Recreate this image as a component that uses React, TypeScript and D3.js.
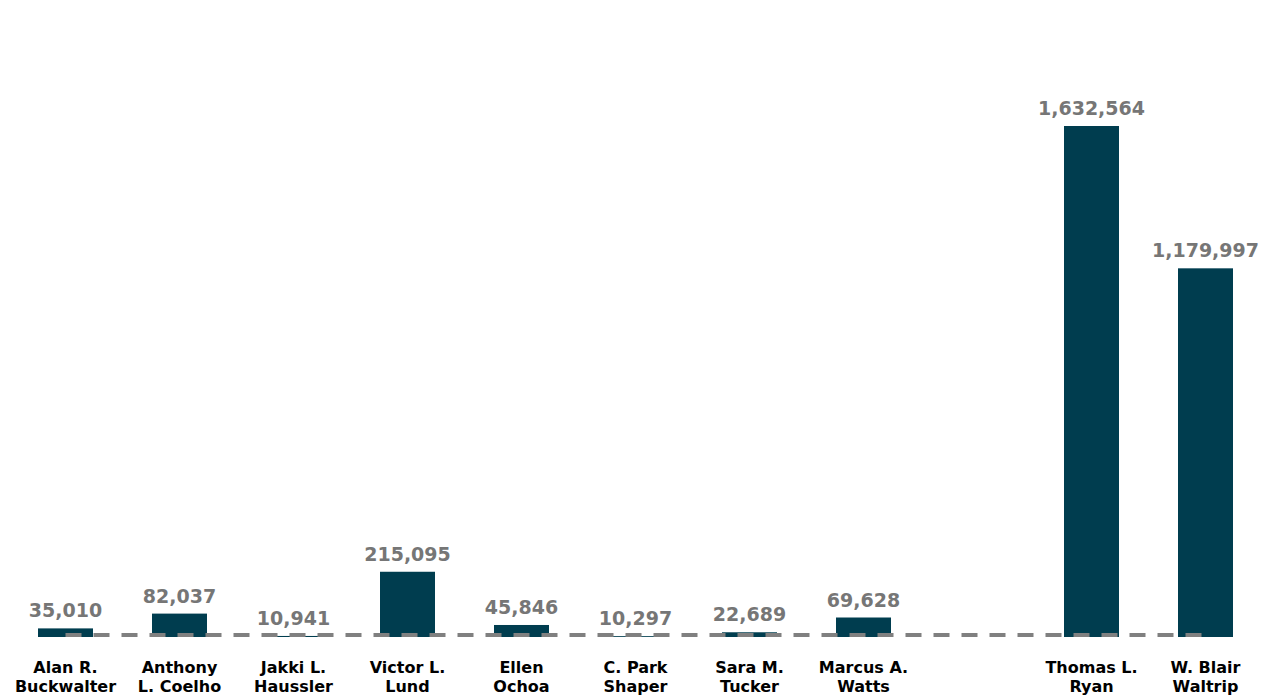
import React from "react";
import * as d3 from "d3";

const categories: string[][] = [
  ["Alan R.", "Buckwalter"],
  ["Anthony", "L. Coelho"],
  ["Jakki L.", "Haussler"],
  ["Victor L.", "Lund"],
  ["Ellen", "Ochoa"],
  ["C. Park", "Shaper"],
  ["Sara M.", "Tucker"],
  ["Marcus A.", "Watts"],
  ["", ""],
  ["Thomas L.", "Ryan"],
  ["W. Blair", "Waltrip"],
];
const values: (number | null)[] = [35010, 82037, 10941, 215095, 45846, 10297, 22689, 69628, null, 1632564, 1179997];
const lineValues: number[] = [14000, 14000, 14000, 14000, 14000, 14000, 14000, 14000, 14000, 14000, 14000];

export default function App() {
  const W = 1270, H = 700;
  const x = d3.scaleBand<number>().domain(categories.map((_, i) => i)).range([8.5, 1262.5]).paddingInner(0).paddingOuter(0);
  const y = d3.scaleLinear().domain([0, 1632564]).range([639.4, 126]);
  const plotBottom = 637;
  const bw = 55;
  const fmt = d3.format(",");
  const cx = (i: number) => (x(i) as number) + x.bandwidth() / 2;
  const line = d3.line<number>().x((_, i) => cx(i)).y((d) => y(d));
  return (
    <svg width={W} height={H} style={{ position: "absolute", left: 0, top: 0 }}>
      <rect width={W} height={H} fill="#fff" />
      {values.map((v, i) =>
        v == null ? null : (
          <g key={i}>
            <rect x={cx(i) - bw / 2} y={y(v)} width={bw} height={Math.max(0, plotBottom - y(v))} fill="#003d4f" />
            <text x={cx(i)} y={y(v) - 11} textAnchor="middle" fontFamily="DejaVu Sans" fontWeight="bold" fontSize={19} fill="#767676">
              {fmt(v)}
            </text>
          </g>
        )
      )}
      <path d={line(lineValues) || ""} fill="none" stroke="#808080" strokeWidth={4} strokeDasharray="16 12" />
      {categories.map((c, i) => (
        <text key={i} x={cx(i)} textAnchor="middle" fontFamily="DejaVu Sans" fontWeight="bold" fontSize={16} fill="#000">
          <tspan x={cx(i)} y={673}>{c[0]}</tspan>
          <tspan x={cx(i)} y={692}>{c[1]}</tspan>
        </text>
      ))}
    </svg>
  );
}
